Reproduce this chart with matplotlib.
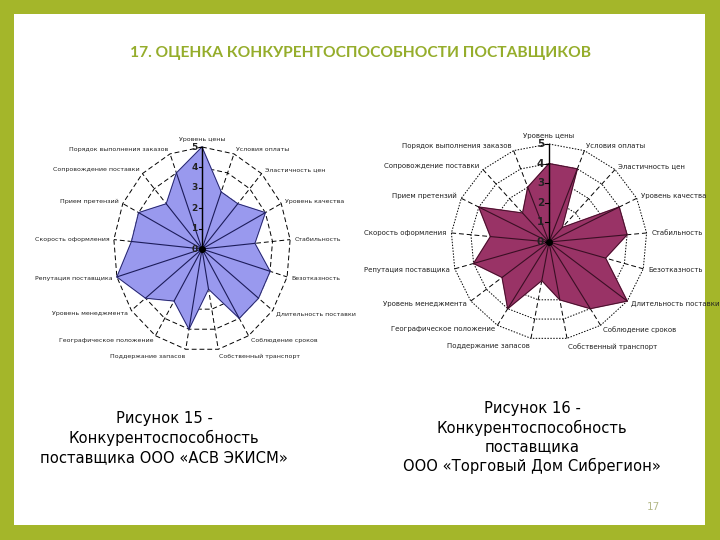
import numpy as np
import matplotlib.pyplot as plt
from matplotlib.patches import Rectangle

# критерии оценки поставщиков (по часовой стрелке от верха)
criterios = [
    "Уровень цены",
    "Условия оплаты",
    "Эластичность цен",
    "Уровень качества",
    "Стабильность",
    "Безотказность",
    "Длительность поставки",
    "Соблюдение сроков",
    "Собственный транспорт",
    "Поддержание запасов",
    "Географическое положение",
    "Уровень менеджмента",
    "Репутация поставщика",
    "Скорость оформления",
    "Прием претензий",
    "Сопровождение поставки",
    "Порядок выполнения заказов",
]

notas_asv = [5, 3, 3, 4, 3, 4, 4, 4, 2, 4, 3, 4, 5, 4, 4, 3, 4]
notas_sibregion = [4, 4, 1, 4, 4, 3, 5, 4, 3, 2, 4, 3, 4, 3, 4, 2, 3]
niveis = [0, 1, 2, 3, 4, 5]

verde = "#a4b62a"
W, H = 720, 540

fig = plt.figure(figsize=(7.2, 5.4), dpi=100)
fig.patch.set_facecolor(verde)
fig.patches.append(
    Rectangle((14 / W, 15 / H), 691 / W, 511 / H, transform=fig.transFigure,
              facecolor="white", edgecolor="none", zorder=-10)
)

fig.text(0.5, 1 - 53 / H, "17. ОЦЕНКА КОНКУРЕНТОСПОСОБНОСТИ ПОСТАВЩИКОВ",
         ha="center", va="center", fontsize=11.2, fontweight="bold",
         color="#95ad2b", family="Lato")


def radar(cx, cy, px_x, px_y, valores, cor_fill, cor_borda, estilo_anel, fs_label, fs_tick):
    lim = 5.5
    w = 2 * lim * px_x
    h = 2 * lim * px_y
    ax = fig.add_axes([(cx - w / 2) / W, (H - cy - h / 2) / H, w / W, h / H])
    ax.set_xlim(-lim, lim)
    ax.set_ylim(-lim, lim)
    ax.axis("off")

    n = len(criterios)
    ang = np.arange(n) * 2 * np.pi / n
    s, c = np.sin(ang), np.cos(ang)

    # anéis da grade
    for r in niveis[1:]:
        xs = np.append(r * s, r * s[0])
        ys = np.append(r * c, r * c[0])
        ax.plot(xs, ys, color="black", lw=0.7, ls=estilo_anel, zorder=1)
    # raios
    for i in range(n):
        ax.plot([0, 5 * s[i]], [0, 5 * c[i]], color="black", lw=0.7,
                ls=(0, (5, 3)), zorder=1)

    v = np.array(valores, dtype=float)
    xs = np.append(v * s, v[0] * s[0])
    ys = np.append(v * c, v[0] * c[0])
    ax.fill(xs, ys, color=cor_fill, zorder=2)
    ax.plot(xs, ys, color=cor_borda, lw=0.6, zorder=3)
    for i in range(n):
        ax.plot([0, v[i] * s[i]], [0, v[i] * c[i]], color=cor_borda, lw=0.8, zorder=3)
    ax.plot([0, 0], [0, 5], color="black", lw=1.0, zorder=4)
    for r in niveis:
        ax.plot([-0.18, 0], [r, r], color="black", lw=0.8, zorder=4)
        ax.text(-0.25, r, str(r), ha="right", va="center", fontsize=fs_tick,
                fontweight="bold", color="#222222", zorder=5)
    ax.plot(0, 0, "o", color="black", ms=4, zorder=6)

    # rótulos das categorias
    for i, nome in enumerate(criterios):
        rr = 5.25
        if abs(s[i]) < 0.1:
            ha = "center"
        elif s[i] > 0:
            ha = "left"
        else:
            ha = "right"
        if c[i] > 0.95:
            va = "bottom"
        elif c[i] < -0.9:
            va = "top"
        else:
            va = "center"
        ax.text(rr * s[i], rr * c[i], nome, ha=ha, va=va, fontsize=fs_label,
                color="#222222", clip_on=False)
    return ax


radar(202, 249, 17.7, 20.4, notas_asv, "#9999ee", "#1c1c5a", (0, (5, 3)), 4.5, 6.5)
radar(549, 242, 19.6, 19.6, notas_sibregion, "#993366", "#3a0f24", (0, (1.5, 1.5)), 5, 7.5)

leg_15 = "Рисунок 15 -\nКонкурентоспособность\nпоставщика ООО «АСВ ЭКИСМ»"
leg_16 = "Рисунок 16 -\nКонкурентоспособность\nпоставщика\nООО «Торговый Дом Сибрегион»"
fig.text(164 / W, 1 - 438 / H, leg_15, ha="center", va="center", fontsize=10.6,
         linespacing=1.3, color="black")
fig.text(532 / W, 1 - 437.5 / H, leg_16, ha="center", va="center", fontsize=10.6,
         linespacing=1.3, color="black")
fig.text(653 / W, 1 - 507 / H, "17", ha="center", va="center", fontsize=7.5,
         color="#b5b98a")

fig.savefig("out.png", dpi=100, facecolor=fig.get_facecolor())
